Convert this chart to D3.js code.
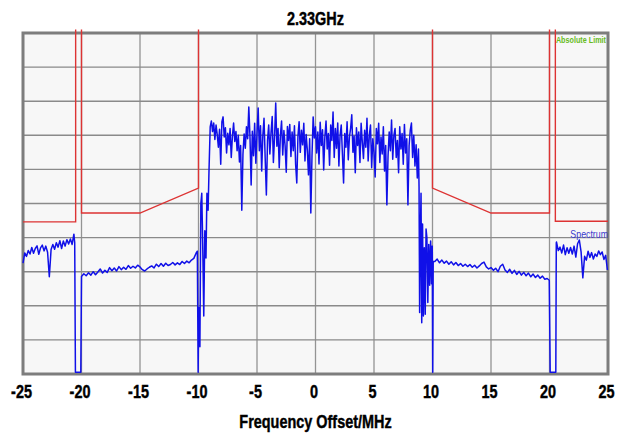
<!DOCTYPE html>
<html>
<head>
<meta charset="utf-8">
<script src="https://cdn.jsdelivr.net/npm/d3@7/dist/d3.min.js"></script>
<style>
  html, body { margin: 0; padding: 0; background: #ffffff; }
  svg { display: block; }
  text { font-family: 'Liberation Sans', Arial, sans-serif; }
</style>
</head>
<body>
<svg id="chart" width="629" height="441"></svg>
<script>
// ---------- DATA ----------
const chartTitle = "2.33GHz";
const xAxisTitle = "Frequency Offset/MHz";
const xTickValues = [-25, -20, -15, -10, -5, 0, 5, 10, 15, 20, 25];
const yGridValues = [-100, -90, -80, -70, -60, -50, -40, -30, -20, -10, 0];

// Spectrum emission mask (MHz, dB) – separate red segments
const maskLeftOuter  = [[-25, -55.4], [-20.5, -55.4], [-20.5, 1]];
const maskLeftInner  = [[-20, 1], [-20, -52.8], [-15, -52.8], [-10, -45.5], [-10, 1]];
const maskRightInner = [[10, 1], [10, -45.5], [15, -52.8], [20, -52.8], [20, 1]];
const maskRightOuter = [[20.5, 1], [20.5, -55.2], [25, -55.2]];

// Spectrum trace (dB), sampled segments
const spurLeftStart = -25, spurLeftStep = 0.15;
const spurLeftDb = [-67.5, -64.5, -65.5, -63.8, -64.8, -62.9, -64.6, -63.2, -62.4, -64.9,
  -63.0, -62.2, -63.9, -62.5, -64.3, -71.5, -63.5, -62.0, -63.4, -61.5,
  -62.8, -60.9, -63.2, -61.0, -62.5, -60.6, -61.9, -60.4, -62.0, -59.0];
const notchLeft = [[-20.58, -61.5], [-20.52, -99.5], [-20.06, -99.5], [-20.0, -71.4]];

const shoulderLeftStart = -19.8, shoulderLeftStep = 0.2;
const shoulderLeftDb = [-70.6, -71.2, -70.3, -71.0, -70.0, -70.9, -70.1, -69.2, -70.4,
  -69.6, -70.2, -68.8, -69.7, -68.9, -69.8, -68.5, -69.4, -68.7, -69.3,
  -68.2, -69.0, -68.4, -68.9, -68.1, -68.6, -69.4, -69.8, -69.2, -68.7,
  -68.3, -68.9, -67.8, -68.5, -67.6, -68.4, -67.5, -68.2, -67.9, -67.3,
  -68.0, -67.4, -67.9, -67.0, -67.6, -66.9, -67.4, -66.6, -66.1, -64.5];

const edgeLeft = [[-10.1, -64.0], [-10.03, -99.5], [-9.98, -80.5], [-9.93, -84.0], [-9.88, -92.0],
  [-9.80, -50.0], [-9.72, -47.0], [-9.64, -62.0], [-9.55, -83.0], [-9.46, -58.0],
  [-9.36, -66.0], [-9.28, -47.0], [-9.18, -52.0], [-9.10, -40.0]];

const mainBandStart = -9.0, mainBandStep = 0.1;
const mainBandDb = [
  -27.5, -25.8, -28.9, -26.4, -31.2, -27.0, -29.8, -33.5, -28.2, -38.5,
  -26.0, -24.6, -30.5, -27.8, -35.2, -29.4, -32.8, -28.0, -36.5, -30.2,
  -26.4, -31.8, -28.9, -34.5, -30.0, -37.8, -33.0, -52.0, -35.5, -29.6,
  -33.8, -27.5, -31.0, -21.7, -30.4, -44.6, -28.8, -36.0, -26.5, -38.2,
  -29.5, -22.0, -34.5, -27.2, -40.5, -30.0, -25.0, -36.8, -47.5, -31.5,
  -27.0, -35.5, -29.2, -24.5, -38.0, -30.5, -20.5, -33.2, -28.0, -39.5,
  -30.0, -25.8, -35.8, -28.6, -33.0, -40.8, -27.4, -31.5, -26.8, -36.2,
  -29.0, -34.5, -27.2, -38.5, -44.0, -30.2, -26.0, -35.0, -28.5, -32.8,
  -26.5, -37.5, -29.8, -34.2, -41.6, -31.0, -52.8, -36.0, -24.6, -30.8,
  -27.5, -35.2, -29.0, -38.4, -26.2, -33.0, -28.4, -40.2, -30.5, -25.8,
  -34.0, -29.5, -38.8, -27.0, -31.5, -23.2, -36.5, -28.0, -33.8, -26.4,
  -39.0, -30.0, -27.0, -35.5, -44.0, -29.5, -33.5, -26.0, -37.2, -30.5,
  -28.0, -24.0, -35.0, -30.2, -41.0, -27.8, -33.0, -29.0, -38.0, -26.5,
  -32.0, -36.8, -28.5, -33.5, -25.0, -37.5, -30.0, -27.0, -39.5, -31.0,
  -35.0, -42.2, -28.0, -32.5, -26.5, -38.0, -30.5, -35.5, -27.5, -40.5,
  -33.0, -50.4, -36.0, -29.0, -34.5, -25.5, -37.0, -30.0, -28.0, -36.5,
  -31.5, -41.0, -27.5, -34.0, -29.5, -38.5, -26.8, -35.2, -31.0, -50.4,
  -33.0, -28.5, -26.4, -36.5, -30.0, -39.0, -32.8, -42.5, -34.0];

const edgeRight = [[8.85, -45.0], [8.9, -82.0], [8.96, -60.0], [9.02, -47.0], [9.08, -85.0],
  [9.15, -56.0], [9.22, -83.0], [9.3, -63.0], [9.38, -82.5], [9.45, -57.5],
  [9.52, -60.0], [9.6, -79.0], [9.68, -62.0], [9.76, -74.0], [9.84, -61.0],
  [9.92, -73.5], [9.98, -62.5], [10.02, -99.5], [10.06, -67.0]];

const shoulderRightStart = 10.2, shoulderRightStep = 0.2;
const shoulderRightDb = [-67.0, -66.3, -67.4, -66.6, -67.5, -66.9, -67.8, -67.1, -68.0, -67.3,
  -68.2, -67.6, -68.4, -67.8, -68.5, -67.9, -68.7, -68.1, -68.9, -68.3,
  -67.6, -67.2, -68.6, -69.2, -68.8, -69.6, -69.0, -70.0, -68.4, -67.8,
  -69.5, -70.2, -69.3, -70.5, -69.6, -70.8, -69.9, -71.0, -70.2, -71.2,
  -70.4, -71.5, -70.7, -71.7, -71.0, -71.9, -71.3, -72.2, -72.0];
const notchRight = [[19.98, -72.5], [20.06, -99.5], [20.54, -99.5], [20.58, -61.5]];

const spurRightStart = 20.6, spurRightStep = 0.15;
const spurRightDb = [-61.3, -63.8, -62.8, -64.5, -62.2, -65.0, -63.0, -64.6, -62.9, -64.8,
  -62.5, -65.7, -61.8, -60.7, -64.2, -71.8, -65.5, -66.6, -64.0, -65.8,
  -64.4, -66.3, -64.8, -65.5, -63.9, -65.0, -64.2, -66.4, -65.2, -69.5];

// ---------- CHART ----------
const W = 629, H = 441;
const margin = { top: 33, right: 21, bottom: 67, left: 23 };
const narrow = 0.76;   // horizontal condensing of the bold labels
const labelSize = 19;
const svg = d3.select("#chart");

const x = d3.scaleLinear().domain([-25, 25]).range([margin.left, W - margin.right]);
const y = d3.scaleLinear().domain([-100, 0]).range([H - margin.bottom, margin.top]);

const sampled = (start, step, arr) => arr.map((v, i) => [start + i * step, v]);
const spectrum = [].concat(
  sampled(spurLeftStart, spurLeftStep, spurLeftDb),
  notchLeft,
  sampled(shoulderLeftStart, shoulderLeftStep, shoulderLeftDb),
  edgeLeft,
  sampled(mainBandStart, mainBandStep, mainBandDb),
  edgeRight,
  sampled(shoulderRightStart, shoulderRightStep, shoulderRightDb),
  notchRight,
  sampled(spurRightStart, spurRightStep, spurRightDb)
);

// plot background
svg.append("rect")
  .attr("x", x(-25)).attr("y", y(0))
  .attr("width", x(25) - x(-25)).attr("height", y(-100) - y(0))
  .attr("fill", "#f7f7f7");

// grid
svg.append("g").selectAll("line").data(xTickValues).join("line")
  .attr("x1", d => x(d)).attr("x2", d => x(d))
  .attr("y1", y(0)).attr("y2", y(-100))
  .attr("stroke", "#949494").attr("stroke-width", 1.3);
svg.append("g").selectAll("line").data(yGridValues).join("line")
  .attr("x1", x(-25)).attr("x2", x(25))
  .attr("y1", d => y(d)).attr("y2", d => y(d))
  .attr("stroke", "#8a8a8a").attr("stroke-width", 1.4);

// frame
svg.append("rect")
  .attr("x", x(-25)).attr("y", y(0))
  .attr("width", x(25) - x(-25)).attr("height", y(-100) - y(0))
  .attr("fill", "none").attr("stroke", "#7d7d7d").attr("stroke-width", 3);

const line = d3.line().x(d => x(d[0])).y(d => y(d[1]));

// mask
[maskLeftOuter, maskLeftInner, maskRightInner, maskRightOuter].forEach(seg => {
  svg.append("path").datum(seg)
    .attr("d", line)
    .attr("fill", "none")
    .attr("stroke", "#dd3333")
    .attr("stroke-width", 1.4);
});

// spectrum trace
svg.append("path").datum(spectrum)
  .attr("d", line)
  .attr("fill", "none")
  .attr("stroke", "#1010e8")
  .attr("stroke-width", 1.5)
  .attr("stroke-linejoin", "round");

// labels inside plot
svg.append("text")
  .attr("transform", `translate(${x(25) - 2},${y(-1) + 7}) scale(0.85,1)`)
  .attr("text-anchor", "end")
  .attr("font-size", 8.5)
  .attr("font-weight", "bold")
  .attr("fill", "#66bb22")
  .text("Absolute Limit");
svg.append("text")
  .attr("transform", `translate(${x(25)},${y(-59.3) + 3}) scale(0.8,1)`)
  .attr("text-anchor", "end")
  .attr("font-size", 11)
  .attr("fill", "#3a3acc")
  .text("Spectrum");

const boldText = sel => sel
  .attr("font-size", labelSize)
  .attr("font-weight", "bold")
  .attr("fill", "#000")
  .attr("stroke", "#000")
  .attr("stroke-width", 0.45)
  .style("font-family", "'Liberation Sans', Arial, sans-serif");

// x axis labels
const xAxis = d3.axisBottom(x)
  .tickValues(xTickValues)
  .tickSize(0)
  .tickPadding(0)
  .tickFormat(d => String(d));
const gx = svg.append("g")
  .attr("transform", `translate(0,${H - margin.bottom})`)
  .call(xAxis);
gx.select(".domain").remove();
gx.selectAll("text")
  .attr("dy", null)
  .attr("y", 0)
  .attr("transform", `translate(-2,24) scale(${narrow},1)`)
  .call(boldText);

// title
svg.append("text")
  .attr("transform", `translate(${(x(-25) + x(25)) / 2},25) scale(${narrow},1)`)
  .attr("text-anchor", "middle")
  .call(boldText)
  .text(chartTitle);

// x axis title
svg.append("text")
  .attr("transform", `translate(${(x(-25) + x(25)) / 2},428) scale(${narrow},1)`)
  .attr("text-anchor", "middle")
  .call(boldText)
  .text(xAxisTitle);
</script>
</body>
</html>
